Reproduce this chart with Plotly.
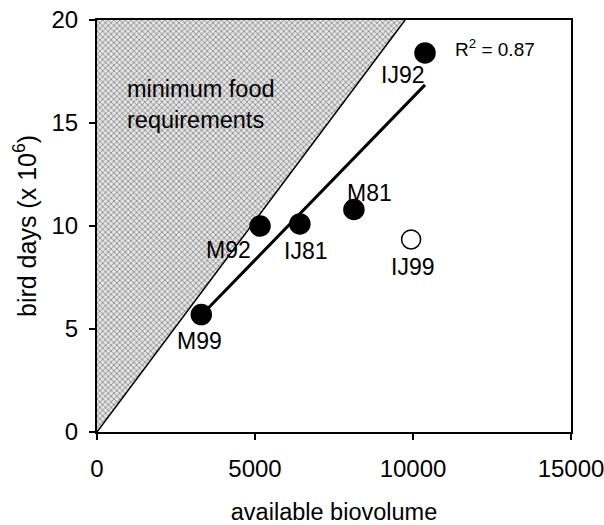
import numpy as np
import plotly.graph_objects as go

# Sites / years and their values
labels = ["M99", "M92", "IJ81", "M81", "IJ99", "IJ92"]
biovolume = [3300, 5160, 6420, 8130, 9940, 10380]
bird_days = [5.7, 10.0, 10.1, 10.8, 9.35, 18.4]
filled = [True, True, True, True, False, True]

# label offsets in pixels (x, y-up)
label_dx = [-2, -32, 6, 16, 1, -23]
label_dy = [-26, -24, -27, 17, -28, -22]

# boundary of the minimum food requirement region
min_req_x = [0, 9750]
min_req_y = [0, 20]

x_ticks = [0, 5000, 10000, 15000]
x_ticklabels = ["0", "5000", "10000", "15000"]
y_ticks = [0, 5, 10, 15, 20]

FONT = "Liberation Sans, Arial, sans-serif"

fx = np.array([b for b, f in zip(biovolume, filled) if f], dtype=float)
fy = np.array([d for d, f in zip(bird_days, filled) if f], dtype=float)
slope, intercept = np.polyfit(fx, fy, 1)
pred = slope * fx + intercept
r2 = 1 - np.sum((fy - pred) ** 2) / np.sum((fy - fy.mean()) ** 2)
line_x = np.array([fx.min() + 200, fx.max()])
line_y = slope * line_x + intercept

fig = go.Figure()

# shaded region above the requirement line
fig.add_trace(go.Scatter(
    x=[min_req_x[0], min_req_x[1], 0, 0],
    y=[min_req_y[0], min_req_y[1], min_req_y[1], 0],
    fill="toself", mode="none",
    fillcolor="#d0d0d0",
    fillpattern=dict(shape="x", size=4, solidity=0.4,
                     fgcolor="#909090", bgcolor="#e4e4e4", fillmode="replace"),
    showlegend=False, hoverinfo="skip",
))
fig.add_trace(go.Scatter(
    x=min_req_x, y=min_req_y, mode="lines",
    line=dict(color="black", width=1.5), showlegend=False,
))

# regression line through the filled points
fig.add_trace(go.Scatter(
    x=line_x, y=line_y, mode="lines",
    line=dict(color="black", width=3), showlegend=False,
))

# points
fig.add_trace(go.Scatter(
    x=biovolume, y=bird_days, mode="markers",
    marker=dict(size=[20 if f else 19 for f in filled],
                color=["#000000" if f else "#ffffff" for f in filled],
                opacity=1,
                line=dict(color="#000000", width=1.5)),
    showlegend=False,
))

for lab, xv, yv, dx, dy in zip(labels, biovolume, bird_days, label_dx, label_dy):
    fig.add_annotation(x=xv, y=yv, text=lab, showarrow=False,
                       xshift=dx, yshift=dy,
                       font=dict(family=FONT, size=23, color="black"))

fig.add_annotation(x=11270, y=18.64, text=f"R<sup>2</sup> = {r2:.2f}",
                   showarrow=False, xanchor="left",
                   font=dict(family=FONT, size=19, color="black"))

fig.add_annotation(x=880, y=15.9, text="minimum food<br>requirements",
                   showarrow=False, xanchor="left", align="left",
                   font=dict(family=FONT, size=23.5, color="black"))

axis_common = dict(
    showgrid=False, zeroline=False, showline=True, linecolor="black",
    linewidth=2, mirror=True, ticks="outside", tickcolor="black",
    tickwidth=1.5, ticklen=6, automargin=False, ticklabeloverflow="allow",
    tickfont=dict(family=FONT, size=24, color="black"),
)

fig.update_xaxes(range=[0, 15000], tickvals=x_ticks, ticktext=x_ticklabels,
                 ticklabelstandoff=8,
                 title=dict(text="available biovolume", standoff=36,
                            font=dict(family=FONT, size=23.5, color="black")),
                 **axis_common)
fig.update_yaxes(range=[0, 20], tickvals=y_ticks,
                 ticklabelstandoff=6,
                 title=dict(text="bird days (x 10<sup>6</sup>)", standoff=8,
                            font=dict(family=FONT, size=25, color="black")),
                 **axis_common)

fig.update_layout(
    width=604, height=525,
    margin=dict(l=97, r=33, t=20, b=93),
    plot_bgcolor="white", paper_bgcolor="white",
)

fig.write_html("out.html")
